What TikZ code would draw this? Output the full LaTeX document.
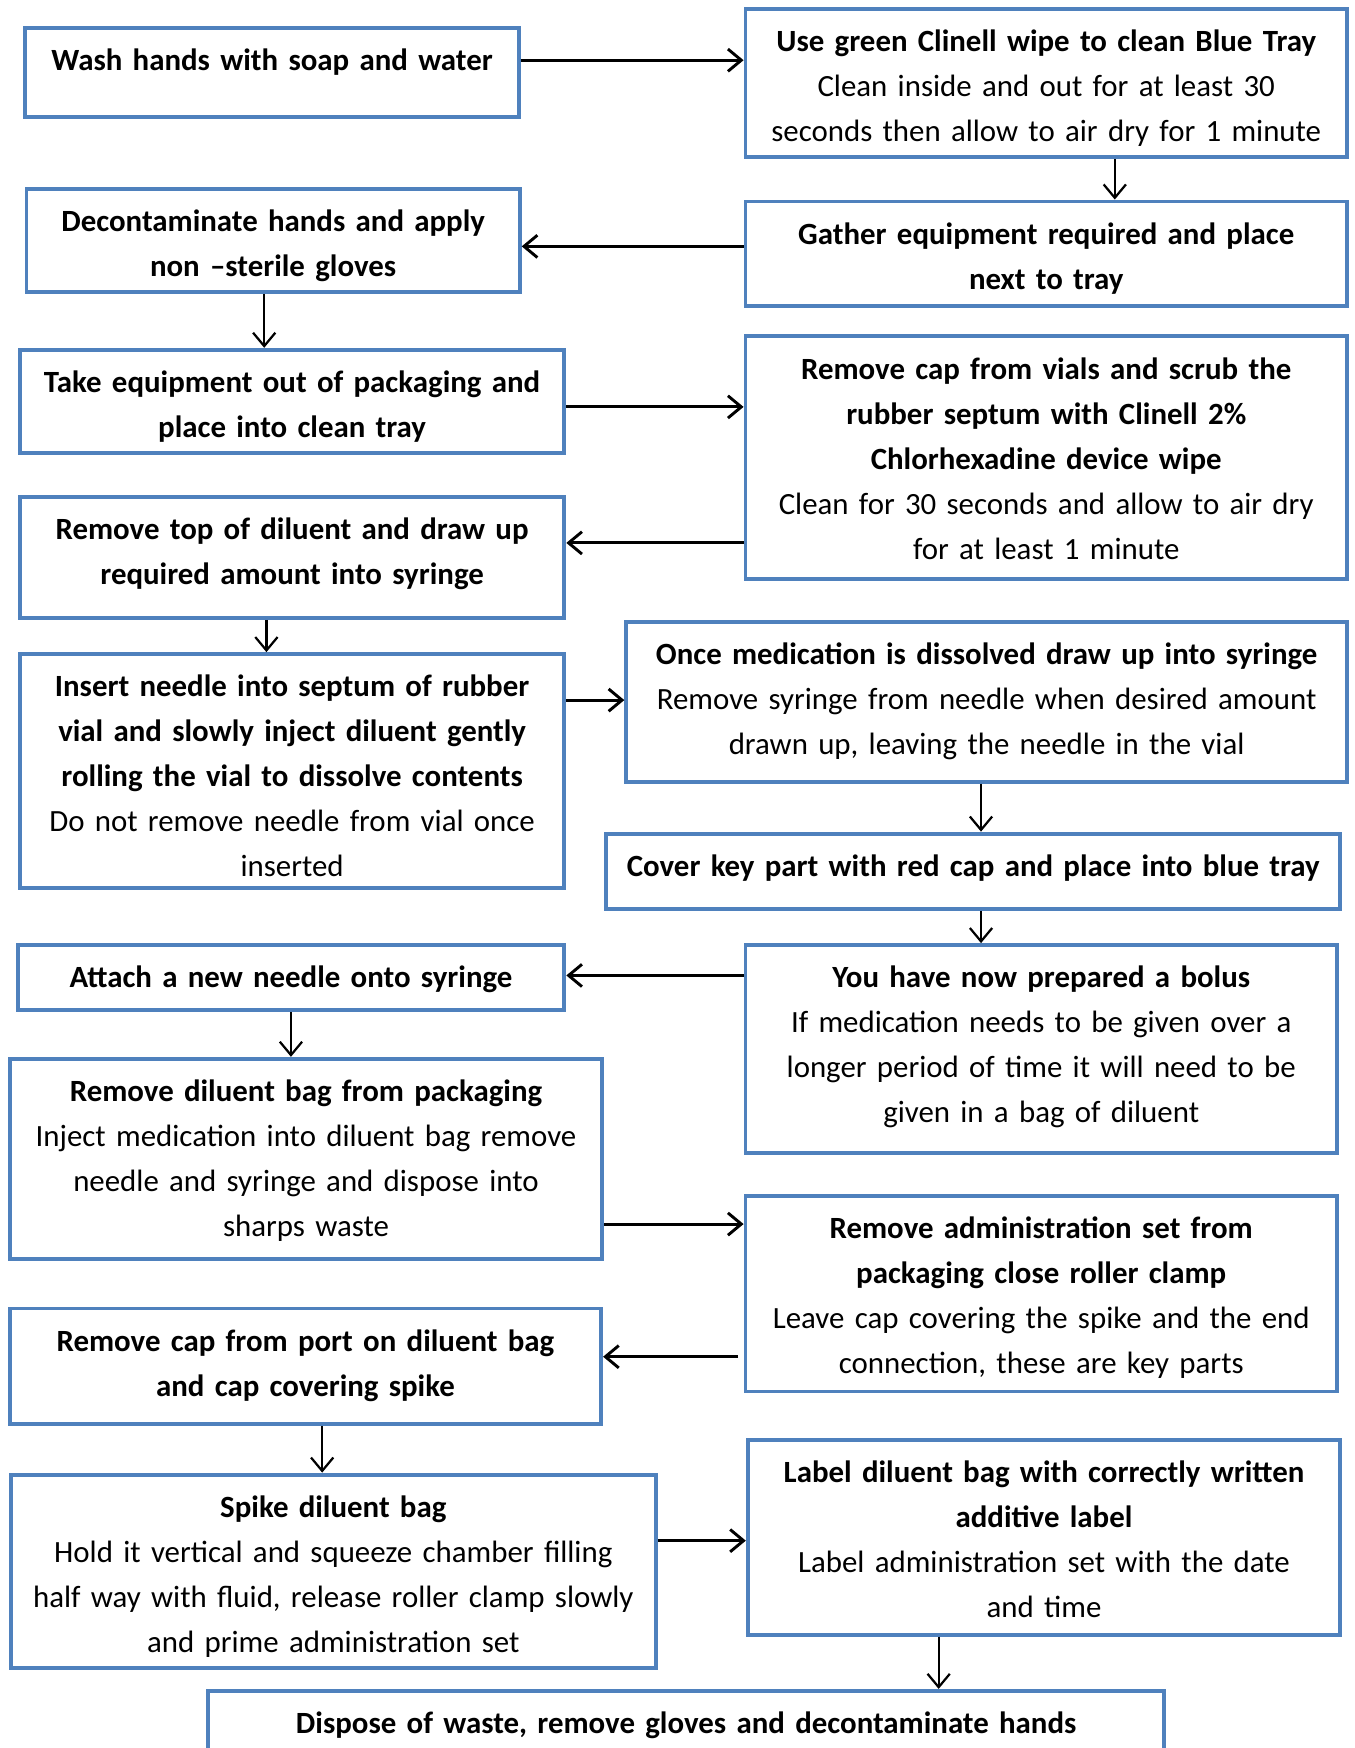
\documentclass[tikz,border=0pt]{standalone}
\usepackage{fontspec}
\setmainfont{Carlito}
\usepackage{xcolor}
\usetikzlibrary{arrows.meta,positioning}
\definecolor{boxblue}{HTML}{4F81BD}

\begin{document}
\begin{tikzpicture}[x=0.5pt, y=-0.5pt]
        % Define styles
        \tikzstyle{stepbox} = [rectangle, draw=boxblue, line width=1.75pt, anchor=north, align=center, inner xsep=0pt, inner ysep=5pt, font=\fontsize{13.85}{20.2}\selectfont, execute at begin node=\strut]
        \tikzstyle{arrow} = [line width=1.3pt, -{Straight Barb[length=6pt,width=10pt]}]
        \tikzstyle{thinarrow} = [line width=1pt, -{Straight Barb[length=6pt,width=10pt]}]

        \useasboundingbox (0,0) rectangle (1215,1568);

        % Left column
        \node [stepbox, text width=221.25pt, text depth=16.1pt] (wash) at (244,23) {\textbf{Wash hands with soap and water}};
        \node [stepbox, text width=221.25pt, text depth=22.1pt] (decon) at (245,168) {\textbf{Decontaminate hands and apply}\\\textbf{non –sterile gloves}};
        \node [stepbox, text width=244.25pt, text depth=22.1pt] (take) at (262,312) {\textbf{Take equipment out of packaging and}\\\textbf{place into clean tray}};
        \node [stepbox, text width=244.25pt, text depth=30.1pt] (rtop) at (262,444) {\textbf{Remove top of diluent and draw up}\\\textbf{required amount into syringe}};
        \node [stepbox, text width=244.25pt, text depth=80.8pt] (insert) at (262,585) {\textbf{Insert needle into septum of rubber}\\\textbf{vial and slowly inject diluent gently}\\\textbf{rolling the vial to dissolve contents}\\Do not remove needle from vial once\\inserted};
        \node [stepbox, text width=245.25pt, text depth=5.1pt] (attach) at (261,846) {\textbf{Attach a new needle onto syringe}};
        \node [stepbox, text width=265.75pt, text depth=65.6pt] (bag) at (274.5,948) {\textbf{Remove diluent bag from packaging}\\Inject medication into diluent bag remove\\needle and syringe and dispose into\\sharps waste};
        \node [stepbox, text width=265.25pt, text depth=27.6pt] (port) at (274,1172) {\textbf{Remove cap from port on diluent bag}\\\textbf{and cap covering spike}};
        \node [stepbox, text width=289.25pt, text depth=62.6pt] (spike) at (299,1321) {\textbf{Spike diluent bag}\\Hold it vertical and squeeze chamber filling\\half way with fluid, release roller clamp slowly\\and prime administration set};

        % Right column
        \node [stepbox, text width=269.75pt, text depth=42.6pt] (clean) at (938.5,6) {\textbf{Use green Clinell wipe to clean Blue Tray}\\Clean inside and out for at least 30\\seconds then allow to air dry for 1 minute};
        \node [stepbox, text width=269.75pt, text depth=22.6pt] (gather) at (938.5,179) {\textbf{Gather equipment required and place}\\\textbf{next to tray}};
        \node [stepbox, text width=269.75pt, text depth=84.6pt] (rcap) at (938.5,300) {\textbf{Remove cap from vials and scrub the}\\\textbf{rubber septum with Clinell 2\%}\\\textbf{Chlorhexadine device wipe}\\Clean for 30 seconds and allow to air dry\\for at least 1 minute};
        \node [stepbox, text width=323.25pt, text depth=47.6pt] (once) at (885,556) {\textbf{Once medication is dissolved draw up into syringe}\\Remove syringe from needle when desired amount\\drawn up, leaving the needle in the vial};
        \node [stepbox, text width=329.25pt, text depth=9.6pt] (cover) at (873,746) {\textbf{Cover key part with red cap and place into blue tray}};
        \node [stepbox, text width=265.25pt, text depth=69.1pt] (bolus) at (934,846) {\textbf{You have now prepared a bolus}\\If medication needs to be given over a\\longer period of time it will need to be\\given in a bag of diluent};
        \node [stepbox, text width=265.25pt, text depth=63.6pt] (admin) at (934,1071) {\textbf{Remove administration set from}\\\textbf{packaging close roller clamp}\\Leave cap covering the spike and the end\\connection, these are key parts};
        \node [stepbox, text width=265.75pt, text depth=63.1pt] (label) at (936.5,1290) {\textbf{Label diluent bag with correctly written}\\\textbf{additive label}\\Label administration set with the date\\and time};

        % Last step
        \node [stepbox, text width=428.75pt, text depth=30pt] (dispose) at (615.5,1515) {\textbf{Dispose of waste, remove gloves and decontaminate hands}};

        % Arrows
        \draw [arrow] (wash.east |- 0,54) -- (clean.west |- 0,54);
        \draw [thinarrow] (clean.south -| 1000,0) -- (gather.north -| 1000,0);
        \draw [arrow] (gather.west |- 0,221) -- (decon.east |- 0,221);
        \draw [thinarrow] (decon.south -| 237,0) -- (take.north -| 237,0);
        \draw [arrow] (take.east |- 0,365) -- (rcap.west |- 0,365);
        \draw [arrow] (rcap.west |- 0,487) -- (rtop.east |- 0,487);
        \draw [thinarrow] (rtop.south -| 239,0) -- (insert.north -| 239,0);
        \draw [arrow] (insert.east |- 0,628) -- (once.west |- 0,628);
        \draw [thinarrow] (once.south -| 880,0) -- (cover.north -| 880,0);
        \draw [thinarrow] (cover.south -| 880,0) -- (bolus.north -| 880,0);
        \draw [arrow] (bolus.west |- 0,875) -- (attach.east |- 0,875);
        \draw [thinarrow] (attach.south -| 261,0) -- (bag.north -| 261,0);
        \draw [arrow] (bag.east |- 0,1098) -- (admin.west |- 0,1098);
        \draw [arrow] ([xshift=-2.5pt]admin.west |- 0,1217) -- (port.east |- 0,1217);
        \draw [thinarrow] (port.south -| 289,0) -- (spike.north -| 289,0);
        \draw [arrow] (spike.east |- 0,1382) -- (label.west |- 0,1382);
        \draw [thinarrow] (label.south -| 842,0) -- (dispose.north -| 842,0);
\end{tikzpicture}
\end{document}
